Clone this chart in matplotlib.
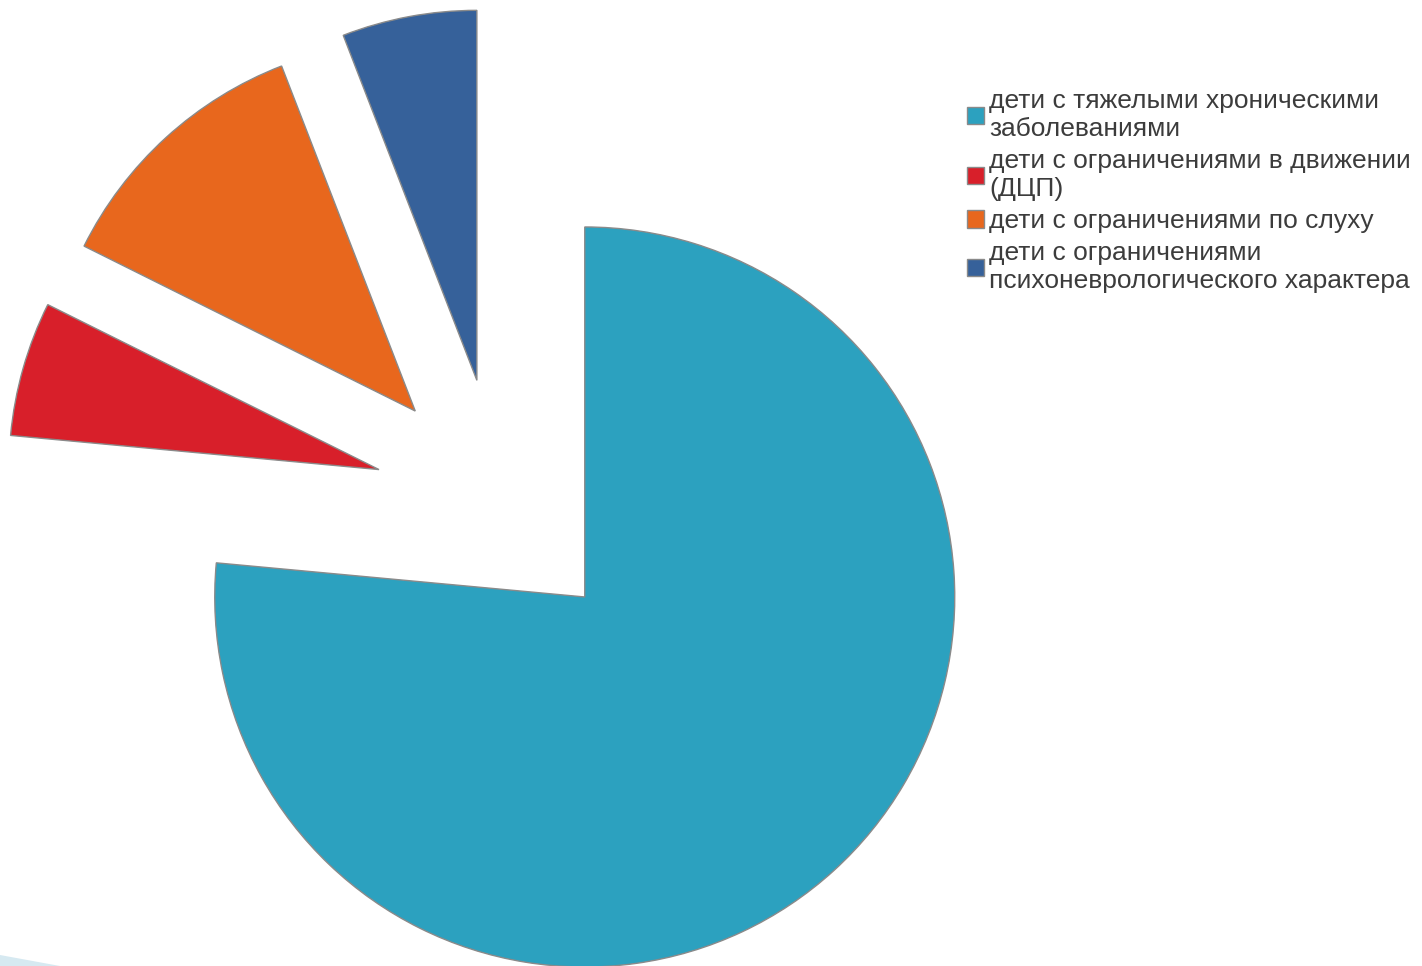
import matplotlib
matplotlib.use("Agg")
import matplotlib.pyplot as plt
from matplotlib.patches import Polygon

categories = [
    "дети с тяжелыми хроническими\nзаболеваниями",
    "дети с ограничениями в движении\n(ДЦП)",
    "дети с ограничениями по слуху",
    "дети с ограничениями\nпсихоневрологического характера",
]
values = [13, 1, 2, 1]
colors = ["#2CA1BF", "#D81F2A", "#E8671D", "#36619A"]

W, H = 1422, 966
R = 370
fig = plt.figure(figsize=(W / 100, H / 100), dpi=100)
ax = fig.add_axes([0, 0, 1, 1])

wedges, _ = ax.pie(
    values,
    colors=colors,
    startangle=90,
    counterclock=False,
    explode=[0.34 * R] * len(values),
    radius=R,
    center=(500, H - 504),
    wedgeprops=dict(edgecolor="#8a8a8a", linewidth=1.0),
    frame=False,
)
ax.set_xlim(0, W)
ax.set_ylim(0, H)
ax.set_aspect("equal")
ax.axis("off")

leg = fig.legend(
    wedges, categories,
    loc="upper left",
    bbox_to_anchor=(967 / W, 1 - 89 / H),
    frameon=False,
    prop={"family": "Liberation Sans", "size": 19},
    handlelength=0.65, handleheight=0.65,
    handletextpad=0.2,
    labelspacing=0.3,
    borderpad=0, borderaxespad=0,
)
for t in leg.get_texts():
    t.set_color("#3c3c3c")
    t.set_linespacing(1.22)

# decorative corner swoosh
fig.patches.append(Polygon([(0, 1 - 955 / H), (60 / W, 0), (0, 0)],
                           closed=True, transform=fig.transFigure,
                           facecolor="#D6E9F1", edgecolor="none"))

fig.savefig("out.png", dpi=100)
